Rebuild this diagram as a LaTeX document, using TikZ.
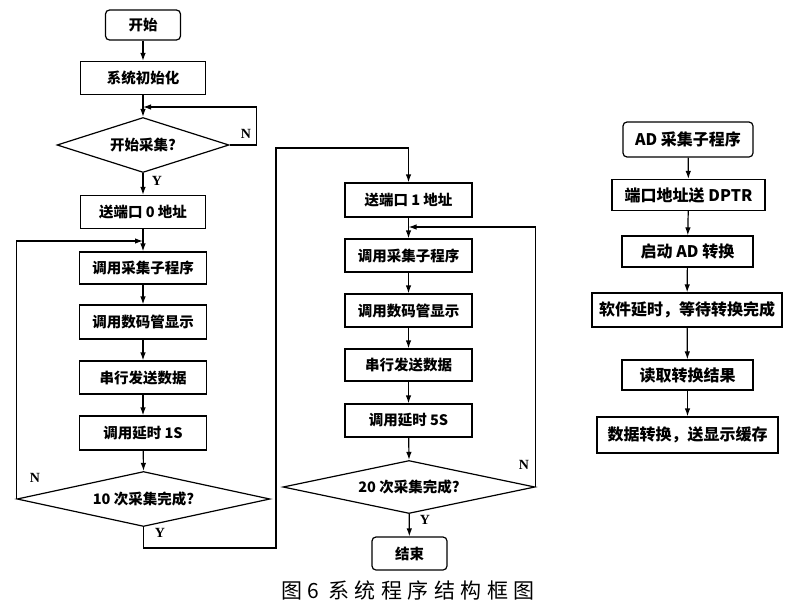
\documentclass[tikz,border=0pt]{standalone}
\usepackage{fontspec}
\setmainfont{Liberation Serif}
\newfontfamily\cjk{Noto Sans CJK SC}
\newfontfamily\cjkcap{Noto Sans CJK SC}[LetterSpace=26]
\usetikzlibrary{shapes.geometric,arrows.meta}
\begin{document}
\begin{tikzpicture}[x=1pt,y=-1pt,line width=1.2pt,
  box/.style={draw,rectangle,minimum height=33pt,minimum width=127pt,inner sep=0pt,font=\cjk\bfseries\fontsize{14.5}{16}\selectfont},
  rbox/.style={box,font=\cjk\bfseries\fontsize{16}{18}\selectfont},
  term/.style={box,rounded corners=4pt},
  dec/.style={draw,diamond,aspect=4,inner sep=0pt,font=\cjk\bfseries\fontsize{14.5}{16}\selectfont},
  arr/.style={-{Latex[length=8pt,width=5.5pt]}},
  lbl/.style={font=\bfseries\fontsize{14}{16}\selectfont,inner sep=0pt}]
\useasboundingbox (0,0) rectangle (800,613);
% left column
\node[term,minimum width=75pt,minimum height=30pt] (start) at (143,25) {开始};
\node[box,minimum width=125pt] (init) at (143,78) {系统初始化};
\node[dec,minimum width=172pt,minimum height=55pt] (d1) at (143,145) {开始采集?};
\node[box,minimum width=125pt] (p0) at (143,212) {送端口 0 地址};
\node[box,minimum height=32pt] (c1) at (143,268) {调用采集子程序};
\node[box,minimum height=34pt] (s1) at (143,322) {调用数码管显示};
\node[box] (t1) at (143,377.5) {串行发送数据};
\node[box,minimum height=34pt] (w1) at (143,433) {调用延时 1S};
\node[dec,minimum width=253pt,minimum height=55pt] (d2) at (143.5,499) {10 次采集完成?};
% middle column
\node[box,minimum height=34pt] (p1) at (408.5,200) {送端口 1 地址};
\node[box] (c2) at (408.5,255.5) {调用采集子程序};
\node[box] (s2) at (408.5,310.5) {调用数码管显示};
\node[box,minimum height=32pt] (t2) at (408.5,365) {串行发送数据};
\node[box] (w2) at (408.5,420.5) {调用延时 5S};
\node[dec,minimum width=252pt,minimum height=53pt] (d3) at (409,487) {20 次采集完成?};
\node[term,minimum width=75pt] (end) at (409.5,553.5) {结束};
% right column
\node[term,rbox,minimum width=130pt,minimum height=35pt] (ad) at (688,139.5) {AD 采集子程序};
\node[box,rbox,minimum width=153pt,minimum height=31pt] (dp) at (688.5,195) {端口地址送 DPTR};
\node[box,rbox,minimum width=131pt,minimum height=31pt] (sa) at (687.5,251.5) {启动 AD 转换};
\node[box,rbox,minimum width=190pt,minimum height=34pt] (sd) at (687,310) {软件延时，等待转换完成};
\node[box,rbox,minimum width=131pt,minimum height=30pt] (rd) at (687.5,375) {读取转换结果};
\node[box,rbox,minimum width=181pt,minimum height=36pt] (dt) at (687.5,435) {数据转换，送显示缓存};
% caption
\node[font=\cjkcap\fontsize{21}{24}\selectfont,inner sep=0pt] (cap) at (408,590) {图6\hspace{9pt}系统程序结构框图};
% junctions
\coordinate (j1) at (143,107);
\coordinate (j2) at (143,241);
\coordinate (j3) at (408.5,227);
\coordinate (b1) at (276,548);
\coordinate (b2) at (276,148);
% left connectors
\draw[arr] (start) -- (init);
\draw[arr] (init) -- (d1);
\draw[arr] (d1.east) -- ++(27,0) |- (j1);
\draw[arr] (d1) -- (p0);
\draw[arr] (p0) -- (c1);
\draw[arr] (c1) -- (s1);
\draw[arr] (s1) -- (t1);
\draw[arr] (t1) -- (w1);
\draw[arr] (w1) -- (d2.north);
\draw[arr] (d2.west) |- (j2);
\draw[arr] (d2.south) |- (b1) -- (b2) -| (p1.north);
% middle connectors
\draw[arr] (p1) -- (c2);
\draw[arr] (c2) -- (s2);
\draw[arr] (s2) -- (t2);
\draw[arr] (t2) -- (w2);
\draw[arr] (w2) -- (d3.north);
\draw[arr] (d3.east) |- (j3);
\draw[arr] (d3) -- (end);
% right connectors
\draw[arr] (ad) -- (dp);
\draw[arr] (dp) -- (sa);
\draw[arr] (sa) -- (sd);
\draw[arr] (sd) -- (rd);
\draw[arr] (rd) -- (dt);
% labels
\node[lbl] (n1) at (246,134) {N};
\node[lbl] (y1) at (157,181) {Y};
\node[lbl] (n2) at (35,478) {N};
\node[lbl] (y2) at (160,533) {Y};
\node[lbl] (n3) at (524,465) {N};
\node[lbl] (y3) at (425,520) {Y};
\end{tikzpicture}
\end{document}
